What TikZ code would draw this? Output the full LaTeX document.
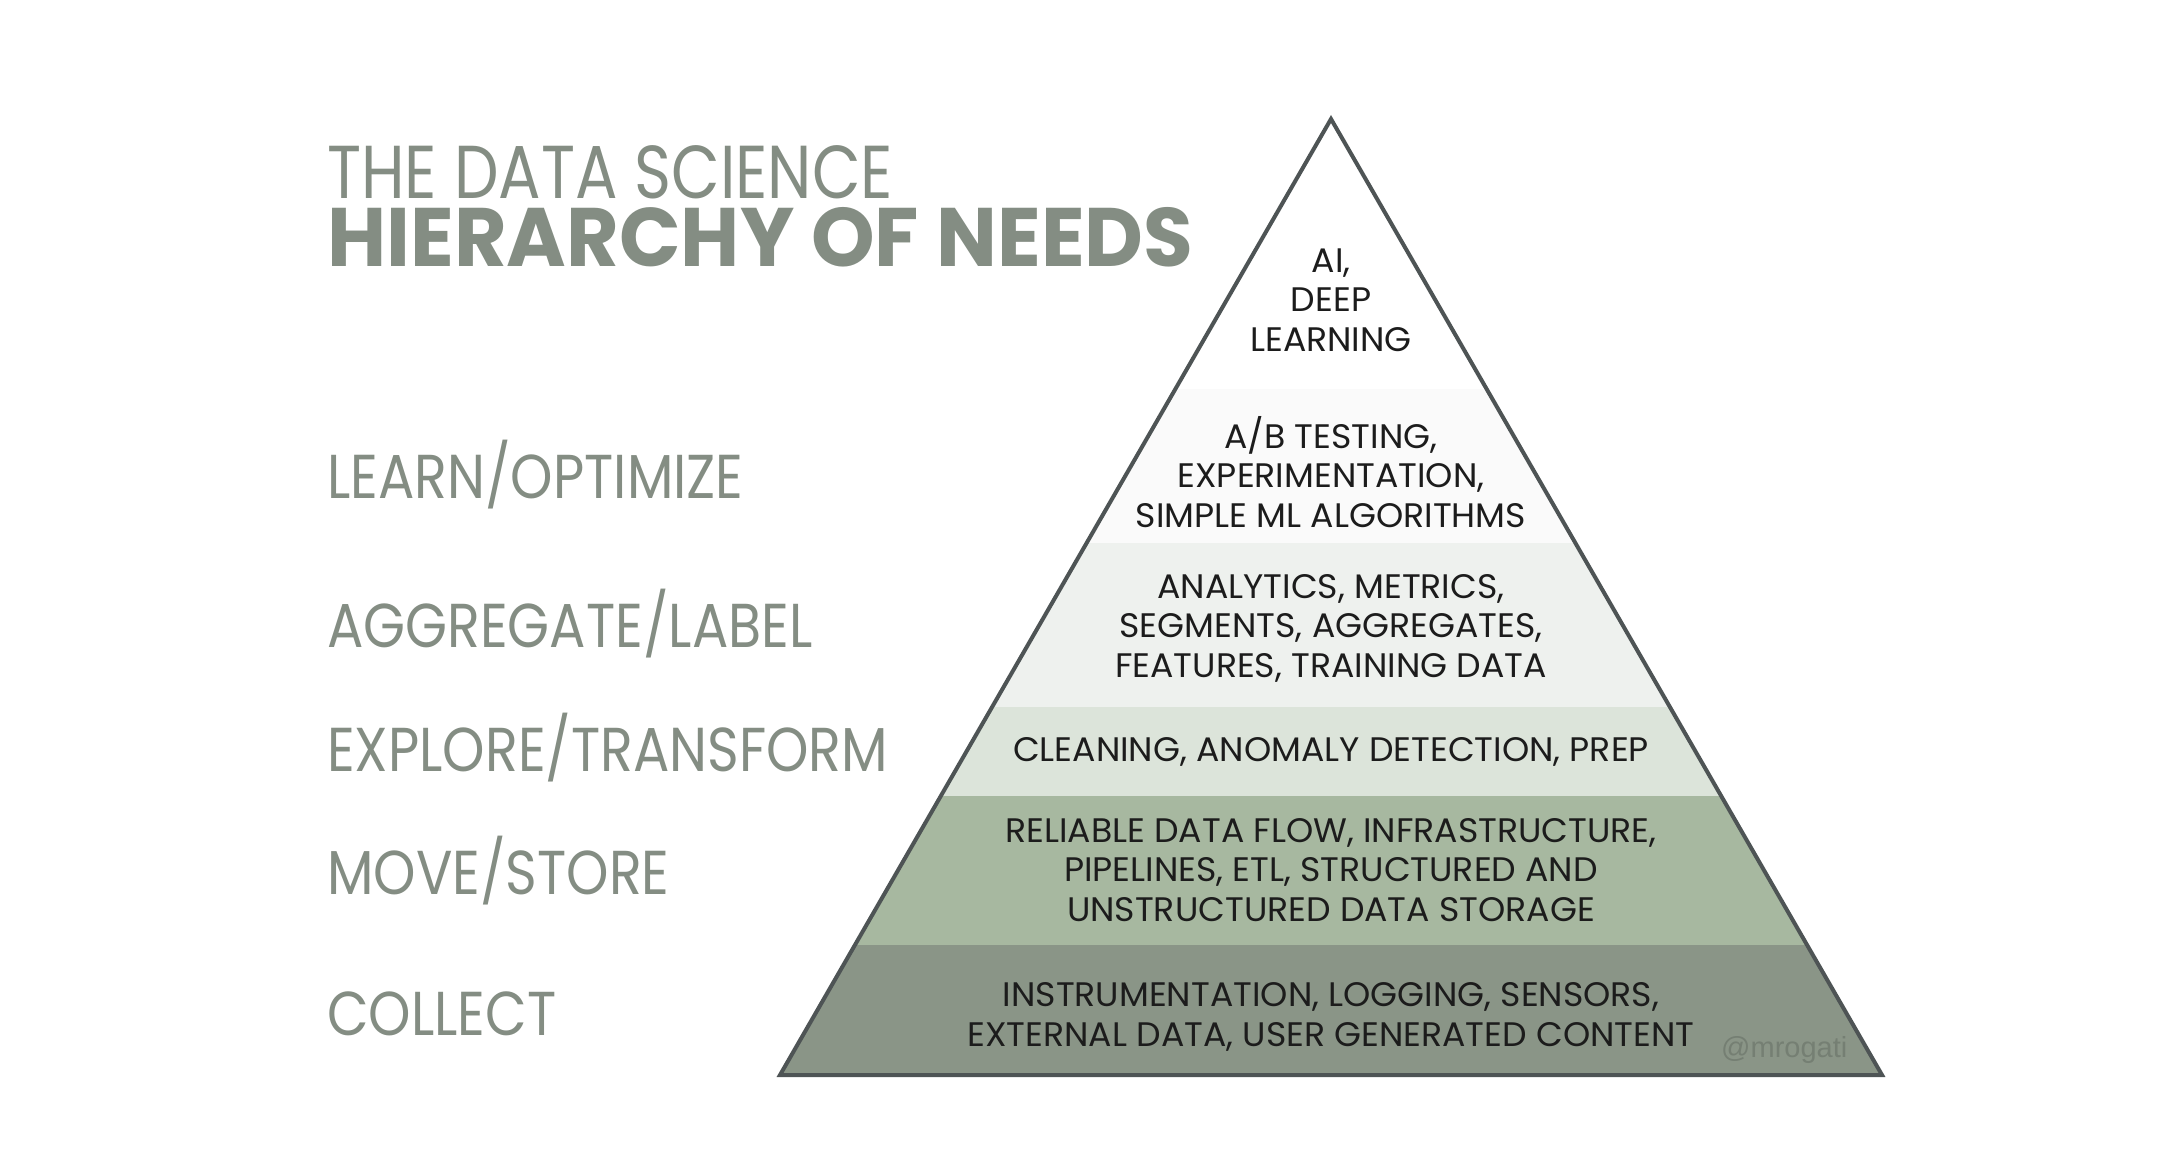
\documentclass[tikz,border=0pt]{standalone}
\usepackage{fontspec}
\setmainfont{Poppins}
\newfontfamily\sidefont[FakeStretch=0.87]{Poppins}
\newfontfamily\headfont[FakeStretch=0.84]{Poppins}
\newfontfamily\boldheadfont[FakeStretch=0.975]{Poppins}
\newfontfamily\tierfont[FakeStretch=1.02]{Poppins}
\newfontfamily\tagfont{Liberation Sans}

\definecolor{sage}{RGB}{132,141,131}
\definecolor{edge}{RGB}{78,84,85}
\definecolor{tierA}{RGB}{255,255,255}
\definecolor{tierB}{RGB}{250,250,250}
\definecolor{tierC}{RGB}{238,241,238}
\definecolor{tierD}{RGB}{220,228,218}
\definecolor{tierE}{RGB}{167,184,160}
\definecolor{tierF}{RGB}{138,149,135}
\definecolor{ink}{RGB}{28,28,28}

\tikzset{
  tier/.style={align=center, text=ink, anchor=base, inner sep=0pt,
    font=\tierfont\fontsize{34}{39.5}\selectfont},
  side/.style={anchor=base west, text=sage, inner sep=0pt,
    text height=44pt, text depth=0pt,
    font=\sidefont\fontsize{62}{70}\selectfont},
}

\begin{document}
\begin{tikzpicture}[x=1pt,y=1pt,yscale=-1]
\useasboundingbox (0,0) rectangle (2175,1161);

% title
\node (title) [side, text height=53pt, font=\headfont\fontsize{75}{80}\selectfont] at (327, 198) {THE DATA SCIENCE};
\node (subtitle) [side, text height=59pt, font=\boldheadfont\bfseries\fontsize{83}{90}\selectfont] at (327, 266) {HIERARCHY OF NEEDS};

% left column
\node (learn) [side] at (327, 498) {LEARN/OPTIMIZE};
\node (aggregate) [side] at (327, 647) {AGGREGATE/LABEL};
\node (explore) [side] at (327, 771) {EXPLORE/TRANSFORM};
\node (move) [side] at (327, 894) {MOVE/STORE};
\node (collect) [side] at (327, 1035) {COLLECT};

% pyramid bands
\begin{scope}
\clip (1331, 119) -- (1882, 1075) -- (780, 1075) -- cycle;
\fill [tierA] (700, 100) rectangle (1960, 389);
\fill [tierB] (700, 389) rectangle (1960, 543);
\fill [tierC] (700, 543) rectangle (1960, 707);
\fill [tierD] (700, 707) rectangle (1960, 796);
\fill [tierE] (700, 796) rectangle (1960, 945);
\fill [tierF] (700, 945) rectangle (1960, 1080);
\end{scope}
\draw [edge, line width=4pt] (1331, 119) -- (1882, 1075) -- (780, 1075) -- cycle;

% pyramid texts
\node (ai) [tier] at (1331, 351) {AI,\\DEEP\\LEARNING};
\node (ab) [tier] at (1331, 527) {A/B TESTING,\\EXPERIMENTATION,\\SIMPLE ML ALGORITHMS};
\node (analytics) [tier] at (1331, 677) {ANALYTICS, METRICS,\\SEGMENTS, AGGREGATES,\\FEATURES, TRAINING DATA};
\node (cleaning) [tier] at (1331, 761) {CLEANING, ANOMALY DETECTION, PREP};
\node (flow) [tier] at (1331, 921) {RELIABLE DATA FLOW, INFRASTRUCTURE,\\PIPELINES, ETL, STRUCTURED AND\\UNSTRUCTURED DATA STORAGE};
\node (instr) [tier] at (1331, 1046) {INSTRUMENTATION, LOGGING, SENSORS,\\EXTERNAL DATA, USER GENERATED CONTENT};

\node (credit) [anchor=base west, inner sep=0pt, text=tierF!85!black, font=\tagfont\fontsize{29}{30}\selectfont] at (1721, 1057) {@mrogati};
\end{tikzpicture}
\end{document}
